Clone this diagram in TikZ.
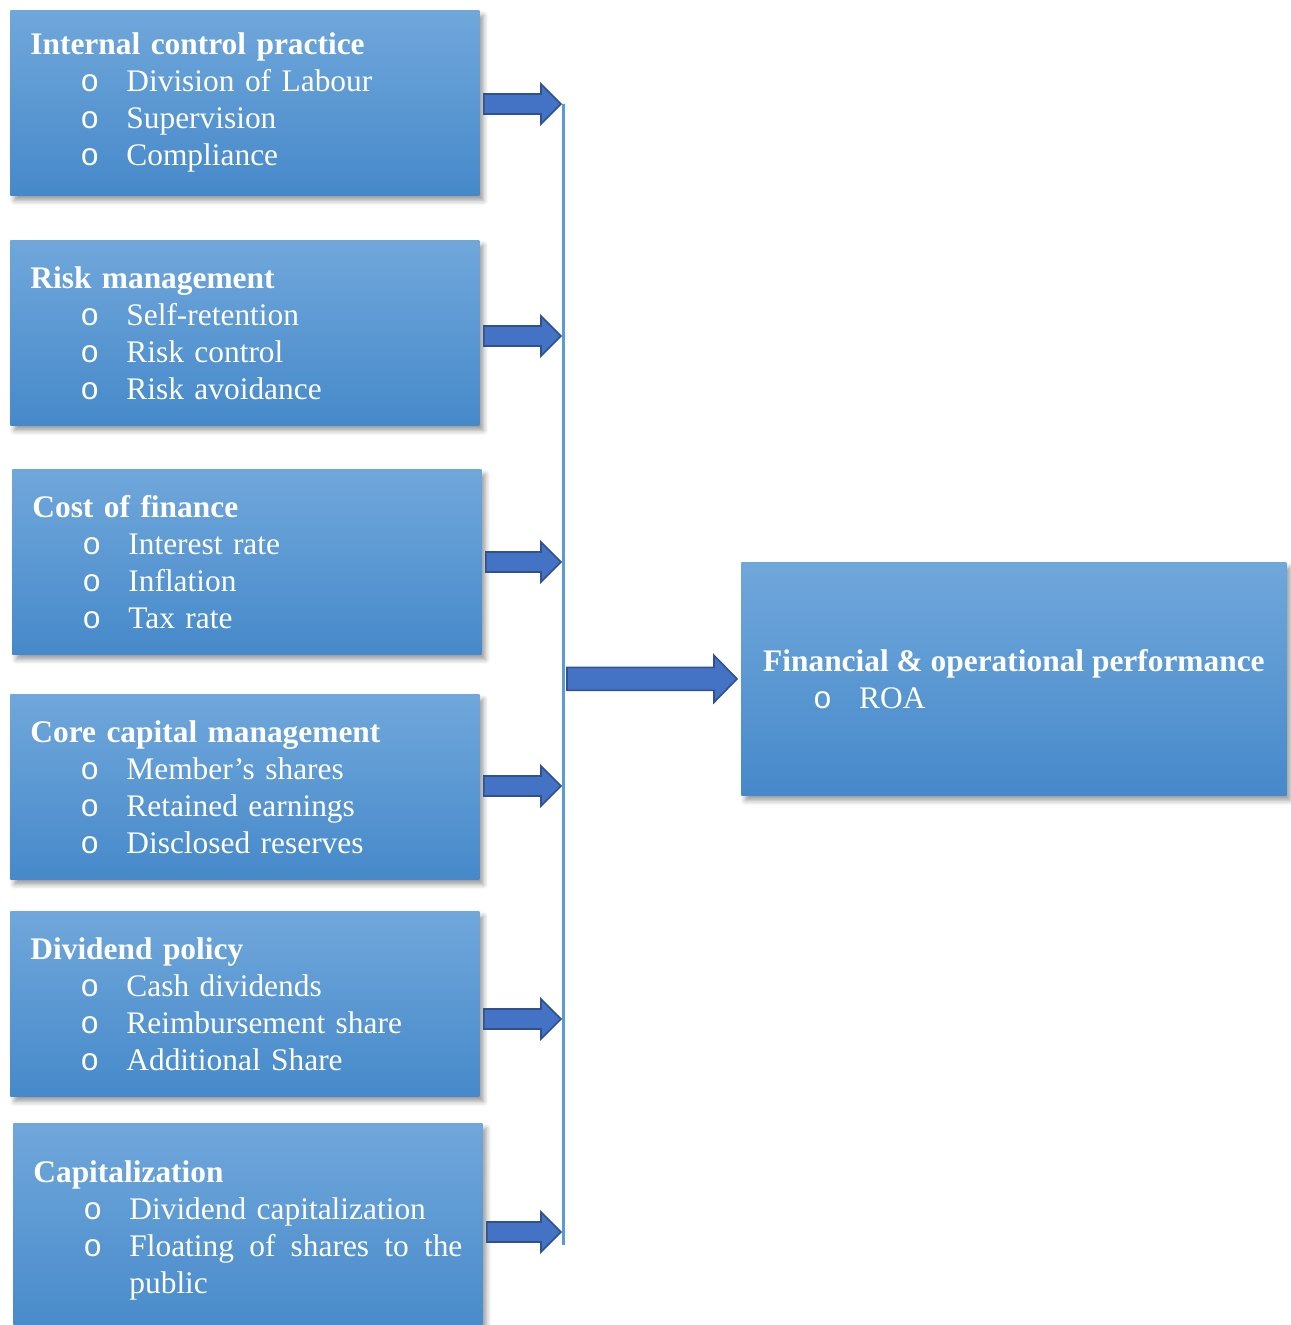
\documentclass[tikz,border=0pt]{standalone}
\usepackage{fontspec}
\setmainfont{Liberation Serif}
\newfontfamily\bulletfont{Liberation Mono}
\usetikzlibrary{calc,shadows.blur}
\definecolor{boxtop}{RGB}{112,167,219}
\definecolor{boxmid}{RGB}{85,153,218}
\definecolor{boxbot}{RGB}{70,137,202}
\definecolor{arrowfill}{RGB}{68,114,196}
\definecolor{arrowedge}{RGB}{47,82,143}
\definecolor{barblue}{RGB}{91,155,213}
\newcommand{\bitem}[1]{\hspace*{25pt}\makebox[23pt][l]{\bulletfont o}#1}
% block arrow: from, to, shaft half, head half, head length
\newcommand{\blockarrow}[5]{%
  \draw[blockarrow] let \p1=(#1), \p2=(#2) in
    ({\x1+2pt},{\y2+#3}) -- ({\x2-2pt-#5},{\y2+#3}) -- ({\x2-2pt-#5},{\y2+#4})
    -- ({\x2-2pt},{\y2}) -- ({\x2-2pt-#5},{\y2-#4}) -- ({\x2-2pt-#5},{\y2-#3})
    -- ({\x1+2pt},{\y2-#3}) -- cycle;}
\tikzset{
  factorbox/.style={
    rectangle,
    anchor=north west,
    top color=boxtop,
    middle color=boxmid,
    bottom color=boxbot,
    blur shadow={shadow xshift=2pt, shadow yshift=-2.5pt, shadow blur radius=2.5pt, shadow opacity=40},
    text=white,
    align=left,
    text width=214.5pt,
    inner xsep=10pt,
    minimum width=234.5pt,
    minimum height=92.5pt,
    font=\fontsize{15.7}{18.5}\selectfont
  },
  blockarrow/.style={
    fill=arrowfill,
    draw=arrowedge,
    line width=0.8pt,
    line join=miter
  },
  barline/.style={
    draw=barblue,
    line width=1.5pt
  }
}
\begin{document}
\begin{tikzpicture}[x=0.5pt,y=-0.5pt]
\useasboundingbox (0,0) rectangle (1290,1325);
\node[factorbox] (control) at (10,10) {\textbf{Internal control practice}\\\bitem{Division of Labour}\\\bitem{Supervision}\\\bitem{Compliance}};
\node[factorbox] (risk) at (10,240) {\textbf{Risk management}\\\bitem{Self-retention}\\\bitem{Risk control}\\\bitem{Risk avoidance}};
\node[factorbox] (cost) at (12,469) {\textbf{Cost of finance}\\\bitem{Interest rate}\\\bitem{Inflation}\\\bitem{Tax rate}};
\node[factorbox] (core) at (10,694) {\textbf{Core capital management}\\\bitem{Member’s shares}\\\bitem{Retained earnings}\\\bitem{Disclosed reserves}};
\node[factorbox] (dividend) at (10,911) {\textbf{Dividend policy}\\\bitem{Cash dividends}\\\bitem{Reimbursement share}\\\bitem{Additional Share}};
\node[factorbox, minimum height=107.5pt] (capital) at (13,1123) {\textbf{Capitalization}\\\bitem{Dividend capitalization}\\\bitem{\makebox[166.5pt][l]{Floating\hfill of\hfill shares\hfill to\hfill the}}\\\hspace*{48pt}public};
\node[factorbox, text width=, inner xsep=9.5pt, minimum width=272.5pt, minimum height=116.5pt] (perf) at (741,562) {\textbf{Financial \& operational performance}\\\bitem{ROA}};

% collecting bar
\coordinate (bartop) at (563,104);
\coordinate (barbot) at (563,1245);
\coordinate (jmid) at (563,678);
\coordinate (j1) at (565,104);
\coordinate (j2) at (565,336);
\coordinate (j3) at (565,562);
\coordinate (j4) at (565,786);
\coordinate (j5) at (565,1019);
\coordinate (j6) at (565,1232);
\draw[barline] (bartop) -- (barbot);

\blockarrow{control.east}{j1}{5pt}{10pt}{10pt}
\blockarrow{risk.east}{j2}{5pt}{10pt}{10pt}
\blockarrow{cost.east}{j3}{5pt}{10pt}{10pt}
\blockarrow{core.east}{j4}{5pt}{10pt}{10pt}
\blockarrow{dividend.east}{j5}{5pt}{10pt}{10pt}
\blockarrow{capital.east}{j6}{5pt}{10pt}{10pt}
\blockarrow{jmid}{perf.west}{5.75pt}{11.75pt}{11.5pt}
\end{tikzpicture}
\end{document}
